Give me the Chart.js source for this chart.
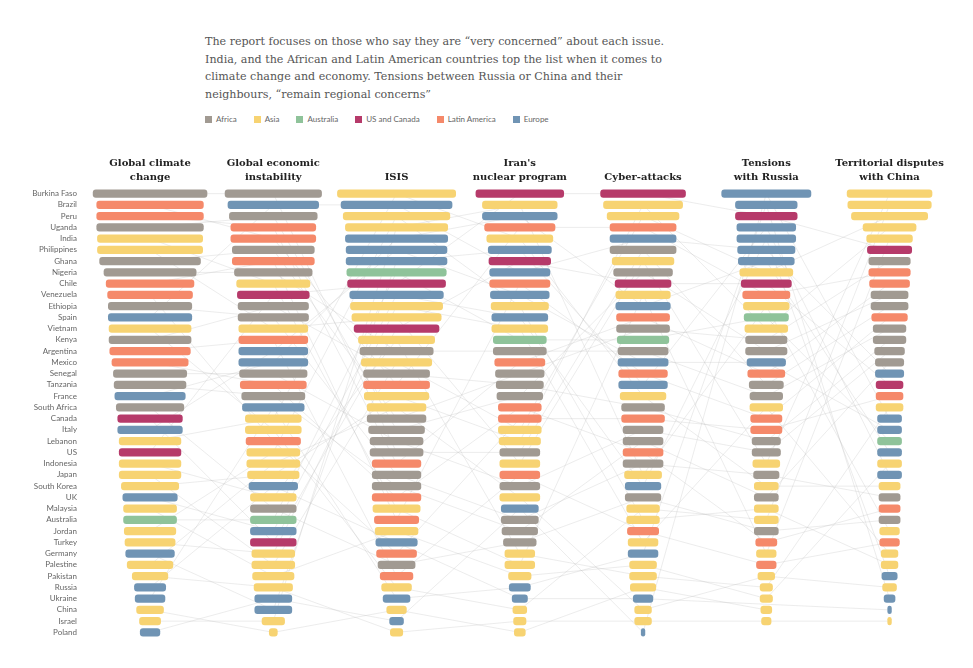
<!DOCTYPE html>
<html>
<head>
<meta charset="utf-8">
<script src="https://cdn.jsdelivr.net/npm/chart.js@4.4.1/dist/chart.umd.min.js"></script>
<style>
    body {
        margin: 0;
        background: #fff;
        width: 973px;
        height: 668px;
        overflow: hidden;
        position: relative;
        font-family: "DejaVu Serif", serif;
    }
    #intro {
        position: absolute;
        left: 205px;
        top: 33px;
        width: 560px;
        font-size: 11.1px;
        line-height: 17.5px;
        color: #555;
    }
    #legend {
        position: absolute;
        left: 205px;
        top: 114px;
        display: flex;
        gap: 17px;
        font-family: Lato, sans-serif;
        font-size: 8px;
        color: #666;
    }
    .key {
        display: flex;
        align-items: center;
    }
    .key i {
        display: inline-block;
        width: 7px;
        height: 7px;
        margin-right: 4px;
    }
    #wrap {
        position: absolute;
        left: 0;
        top: 140px;
        width: 973px;
        height: 510px;
    }
</style>
</head>
<body>
<div id="intro">
    The report focuses on those who say they are “very concerned” about each issue.<br>
    India, and the African and Latin American countries top the list when it comes to<br>
    climate change and economy. Tensions between Russia or China and their<br>
    neighbours, “remain regional concerns”
</div>
<div id="legend"></div>
<div id="wrap"><canvas id="threatsChart"></canvas></div>
<script>
const regionNames = ["Africa", "Asia", "Australia", "US and Canada", "Latin America", "Europe"];
const regionColours = ["#a19a92", "#f7d372", "#8fc39a", "#b63a6a", "#f5896a", "#7094b4"];

// ordine della prima colonna (clima) = etichette dell'asse
const countries = [
    "Burkina Faso", "Brazil", "Peru", "Uganda", "India", "Philippines", "Ghana", "Nigeria",
    "Chile", "Venezuela", "Ethiopia", "Spain", "Vietnam", "Kenya", "Argentina", "Mexico",
    "Senegal", "Tanzania", "France", "South Africa", "Canada", "Italy", "Lebanon", "US",
    "Indonesia", "Japan", "South Korea", "UK", "Malaysia", "Australia", "Jordan", "Turkey",
    "Germany", "Palestine", "Pakistan", "Russia", "Ukraine", "China", "Israel", "Poland",
];
// indice in regionNames, stesso ordine di countries
const countryRegion = [
    0, 4, 4, 0, 1, 1, 0, 0, 4, 4, 0, 5, 1, 0, 4, 4, 0, 0, 5, 0,
    3, 5, 1, 3, 1, 1, 1, 5, 1, 2, 1, 1, 5, 1, 1, 5, 5, 1, 1, 5,
];

const issueTitles = [
    ["Global climate", "change"],
    ["Global economic", "instability"],
    ["ISIS"],
    ["Iran's", "nuclear program"],
    ["Cyber-attacks"],
    ["Tensions", "with Russia"],
    ["Territorial disputes", "with China"],
];

// % "very concerned", in ordine di classifica
const climateRank = countries;
const climateValues = [79, 74, 74, 74, 73, 73, 70, 64, 61, 59, 58, 58, 57, 57, 56, 53, 51, 50, 49, 47,
    45, 45, 43, 43, 43, 43, 40, 38, 37, 37, 36, 35, 34, 32, 25, 22, 21, 19, 15, 14];

const economyRank = ["Burkina Faso", "Spain", "Uganda", "Peru", "Brazil", "Ghana", "Chile", "Nigeria",
    "India", "US", "Kenya", "Ethiopia", "Philippines", "Argentina", "Italy", "France", "Senegal",
    "Mexico", "Tanzania", "Ukraine", "Lebanon", "Vietnam", "Venezuela", "Jordan", "Palestine",
    "South Korea", "Russia", "Indonesia", "South Africa", "Australia", "UK", "Canada", "Turkey",
    "Japan", "Malaysia", "Pakistan", "Poland", "Germany", "Israel", "China"];
const economyValues = [67, 63, 61, 59, 59, 57, 57, 54, 51, 50, 49, 49, 48, 48, 48, 48, 47, 46, 44, 43,
    39, 39, 38, 37, 37, 36, 34, 32, 32, 32, 32, 32, 30, 30, 29, 27, 26, 26, 16, 6];

const isisRank = ["Lebanon", "Spain", "Jordan", "Israel", "France", "Italy", "Germany", "Australia",
    "US", "UK", "Turkey", "Philippines", "Canada", "Indonesia", "Nigeria", "Japan", "Kenya", "Brazil",
    "South Korea", "Palestine", "Ghana", "Uganda", "Senegal", "Burkina Faso", "Peru", "Ethiopia",
    "Tanzania", "Mexico", "India", "Chile", "Malaysia", "Russia", "Venezuela", "South Africa",
    "Argentina", "Vietnam", "Ukraine", "China", "Poland", "Pakistan"];
const isisValues = [82, 77, 74, 71, 71, 70, 70, 69, 68, 65, 64, 62, 59, 53, 51, 49, 46, 46, 45, 41,
    41, 39, 37, 37, 34, 34, 34, 34, 33, 31, 30, 29, 28, 26, 23, 21, 19, 14, 10, 9];

const iranRank = ["US", "Israel", "France", "Brazil", "Lebanon", "Germany", "Canada", "Spain", "Chile",
    "Italy", "Jordan", "UK", "Turkey", "Australia", "Nigeria", "Peru", "Ghana", "Kenya", "Uganda",
    "Mexico", "Venezuela", "Japan", "South Korea", "Burkina Faso", "Philippines", "Argentina",
    "Senegal", "Palestine", "Poland", "Ethiopia", "Tanzania", "South Africa", "Indonesia", "India",
    "Malaysia", "Ukraine", "Russia", "Vietnam", "Pakistan", "China"];
const iranValues = [61, 52, 52, 49, 46, 44, 43, 42, 42, 41, 40, 39, 39, 37, 37, 35, 34, 33, 32, 30,
    30, 30, 29, 28, 28, 28, 28, 28, 26, 26, 25, 23, 21, 21, 16, 15, 11, 10, 9, 8];

const cyberRank = ["US", "South Korea", "Japan", "Brazil", "Spain", "Burkina Faso", "Philippines",
    "Uganda", "Canada", "India", "France", "Peru", "Ghana", "Australia", "Nigeria", "Italy", "Chile",
    "Germany", "Lebanon", "Kenya", "Venezuela", "Senegal", "Tanzania", "Mexico", "Ethiopia", "Israel",
    "UK", "South Africa", "Vietnam", "Jordan", "Argentina", "Turkey", "Ukraine", "Malaysia",
    "Indonesia", "China", "Russia", "Palestine", "Pakistan", "Poland"];
const cyberValues = [59, 55, 50, 46, 46, 46, 43, 41, 39, 38, 38, 37, 37, 36, 35, 35, 34, 34, 32, 30,
    30, 28, 28, 28, 28, 26, 25, 25, 23, 23, 22, 21, 21, 19, 19, 18, 14, 12, 12, 3];

// la Russia non era nella domanda
const russiaRank = ["Poland", "Ukraine", "US", "Germany", "UK", "Spain", "France", "Japan", "Canada",
    "Brazil", "Israel", "Australia", "South Korea", "Ghana", "Uganda", "Italy", "Peru", "Burkina Faso",
    "Nigeria", "Turkey", "Chile", "Venezuela", "Kenya", "Senegal", "Philippines", "Ethiopia",
    "Lebanon", "Tanzania", "Jordan", "Vietnam", "South Africa", "Mexico", "India", "Argentina",
    "Palestine", "Indonesia", "Malaysia", "China", "Pakistan"];
const russiaValues = [62, 43, 43, 41, 41, 40, 39, 37, 35, 33, 32, 31, 30, 29, 29, 27, 26, 24, 23, 23,
    22, 22, 20, 20, 19, 18, 17, 17, 17, 17, 17, 15, 14, 14, 12, 9, 9, 8, 7];

// la Cina non era nella domanda
const chinaRank = ["Philippines", "Vietnam", "Japan", "South Korea", "India", "US", "Ghana", "Brazil",
    "Peru", "Uganda", "Burkina Faso", "Chile", "Nigeria", "Kenya", "Senegal", "Tanzania", "Spain",
    "Canada", "Venezuela", "Indonesia", "Poland", "Italy", "Australia", "France", "Malaysia",
    "Germany", "Lebanon", "Ethiopia", "Mexico", "South Africa", "Israel", "Argentina", "Turkey",
    "Jordan", "UK", "Palestine", "Ukraine", "Russia", "Pakistan"];
const chinaValues = [59, 58, 53, 37, 32, 31, 29, 29, 28, 26, 26, 25, 23, 23, 21, 20, 20, 19, 19, 19,
    17, 17, 17, 17, 17, 17, 15, 15, 15, 15, 14, 14, 12, 12, 11, 10, 8, 3, 3];

const issueRanks = [climateRank, economyRank, isisRank, iranRank, cyberRank, russiaRank, chinaRank];
const issueValues = [climateValues, economyValues, isisValues, iranValues, cyberValues, russiaValues, chinaValues];

// layout colonne (unità dell'asse x = punti percentuali)
const X_MAX = 600;
const FIRST_CENTRE = 42.8;
const COL_STEP = 85;
const centre = (k) => FIRST_CENTRE + k * COL_STEP;

const rankLabels = countries.map((_, i) => String(i + 1));

function colourOf(name) {
    return regionColours[countryRegion[countries.indexOf(name)]];
}

// legenda html
const legend = document.getElementById("legend");
regionNames.forEach((name, i) => {
    const el = document.createElement("span");
    el.className = "key";
    el.innerHTML = `<i style="background:${regionColours[i]}"></i>${name}`;
    legend.appendChild(el);
});

const barSets = issueRanks.map((rank, k) => ({
    type: "bar",
    label: issueTitles[k].join(" "),
    xAxisID: "x",
    yAxisID: "y",
    order: 0,
    data: rank.map((name, r) => {
        const v = issueValues[k][r];
        return { y: rankLabels[r], x: [centre(k) - v / 2, centre(k) + v / 2] };
    }),
    backgroundColor: rank.map(colourOf),
    borderWidth: 0,
    borderRadius: 3,
    borderSkipped: false,
    grouped: false,
    barPercentage: 0.72,
    categoryPercentage: 1,
}));

const lineSets = countries.map((name) => ({
    type: "line",
    label: name,
    xAxisID: "x",
    yAxisID: "y",
    order: 1,
    data: issueRanks
        .map((rank, k) => {
            const r = rank.indexOf(name);
            return r < 0 ? null : { x: centre(k), y: rankLabels[r] };
        })
        .filter((p) => p !== null),
    borderColor: "rgba(185, 185, 185, 0.35)",
    borderWidth: 0.8,
    pointRadius: 0,
    fill: false,
    tension: 0,
}));

document.addEventListener("DOMContentLoaded", function () {
    const ctx = document.getElementById("threatsChart").getContext("2d");

    new Chart(ctx, {
        data: {
            labels: rankLabels,
            datasets: [...barSets, ...lineSets],
        },
        options: {
            indexAxis: "y",
            responsive: true,
            maintainAspectRatio: false,
            animation: false,
            layout: { padding: { left: 0, right: 15, top: 0, bottom: 12 } },
            plugins: {
                legend: { display: false },
                tooltip: { enabled: false },
            },
            scales: {
                x: { type: "linear", min: 0, max: X_MAX, display: false },
                x2: {
                    type: "linear",
                    position: "top",
                    min: 0,
                    max: X_MAX,
                    grid: { display: false },
                    border: { display: false },
                    afterBuildTicks: (axis) => {
                        axis.ticks = issueTitles.map((t, k) => ({ value: centre(k) }));
                    },
                    afterFit: (axis) => {
                        axis.height = 48;
                    },
                    ticks: {
                        autoSkip: false,
                        maxRotation: 0,
                        padding: -5,
                        color: "#222",
                        font: { family: '"DejaVu Serif", serif', size: 10, weight: "bold", lineHeight: 1.45 },
                        callback: (value, index) => issueTitles[index],
                    },
                },
                y: {
                    type: "category",
                    labels: rankLabels,
                    grid: { display: false },
                    border: { display: false },
                    afterFit: (axis) => {
                        axis.width = 88;
                    },
                    ticks: {
                        autoSkip: false,
                        padding: 3,
                        color: "#666",
                        font: { family: "Lato, sans-serif", size: 8 },
                        callback: (value, index) => countries[index],
                    },
                },
            },
        },
    });
});
</script>
</body>
</html>
